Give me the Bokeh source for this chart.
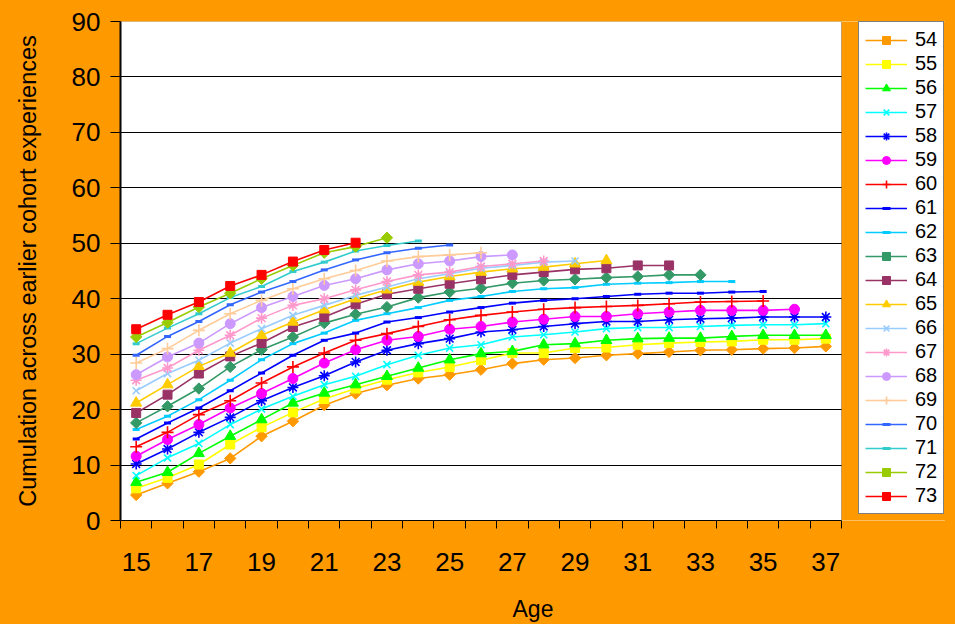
import math
from bokeh.plotting import figure
from bokeh.models import Legend, LegendItem, FixedTicker, Range1d, BoxAnnotation
from bokeh.embed import file_html
from bokeh.resources import INLINE

# ---- data -------------------------------------------------------------
first_age = 15
age_ticks = [15, 17, 19, 21, 23, 25, 27, 29, 31, 33, 35, 37]
y_ticks = [0, 10, 20, 30, 40, 50, 60, 70, 80, 90]
cohorts = ["54", "55", "56", "57", "58", "59", "60", "61", "62", "63",
           "64", "65", "66", "67", "68", "69", "70", "71", "72", "73"]

s54 = [4.6, 6.7, 8.8, 11.2, 15.2, 17.9, 20.8, 22.9, 24.4, 25.6, 26.3, 27.2, 28.3, 29.0, 29.3, 29.8, 30.1, 30.4, 30.7, 30.8, 31.0, 31.1, 31.4]
s55 = [5.8, 7.7, 10.1, 13.7, 16.8, 19.5, 21.9, 23.8, 25.4, 26.7, 27.7, 28.9, 30.2, 30.2, 31.1, 31.2, 31.7, 32.0, 32.2, 32.3, 32.6, 32.6, 32.8]
s56 = [6.9, 8.7, 12.1, 15.2, 18.2, 21.2, 23.0, 24.5, 26.0, 27.5, 29.0, 30.1, 30.5, 31.7, 31.9, 32.5, 32.8, 32.9, 32.9, 33.2, 33.4, 33.4, 33.4]
s57 = [8.1, 11.3, 13.9, 17.3, 20.1, 22.4, 24.5, 26.0, 28.1, 29.8, 31.1, 31.7, 33.1, 33.5, 34.0, 34.6, 34.8, 34.8, 35.0, 35.2, 35.3, 35.3, 35.5]
s58 = [10.2, 12.9, 15.9, 18.6, 21.6, 24.0, 26.1, 28.6, 30.7, 31.9, 32.8, 34.0, 34.4, 35.0, 35.5, 35.9, 35.9, 36.2, 36.4, 36.5, 36.7, 36.7, 36.7]
s59 = [11.6, 14.6, 17.3, 20.3, 22.9, 25.6, 28.4, 30.8, 32.5, 33.2, 34.5, 35.0, 35.8, 36.3, 36.8, 36.8, 37.3, 37.6, 37.9, 37.9, 37.9, 38.1]
s60 = [13.3, 15.9, 19.1, 21.6, 24.8, 27.7, 30.2, 32.5, 33.7, 35.0, 36.2, 37.0, 37.6, 38.1, 38.4, 38.6, 38.8, 39.1, 39.4, 39.5, 39.6]
s61 = [14.7, 17.6, 20.3, 23.4, 26.6, 29.8, 32.5, 33.8, 35.8, 36.6, 37.6, 38.4, 39.2, 39.7, 40.0, 40.4, 40.8, 41.0, 41.0, 41.2, 41.3]
s62 = [16.4, 18.8, 21.8, 25.3, 29.0, 31.9, 33.8, 36.1, 37.3, 38.4, 39.7, 40.4, 41.3, 41.8, 42.0, 42.6, 42.8, 42.9, 43.1, 43.1]
s63 = [17.6, 20.6, 23.8, 27.7, 30.8, 33.1, 35.6, 37.2, 38.5, 40.2, 41.2, 41.9, 42.8, 43.3, 43.5, 43.8, 44.0, 44.3, 44.3]
s64 = [19.4, 22.7, 26.5, 29.6, 32.0, 34.9, 36.7, 39.0, 40.8, 41.8, 42.7, 43.5, 44.3, 44.8, 45.3, 45.5, 46.0, 46.0]
s65 = [21.2, 24.5, 27.8, 30.2, 33.4, 35.8, 38.0, 40.0, 41.6, 43.0, 44.0, 44.8, 45.4, 45.7, 46.3, 46.9]
s66 = [23.4, 26.5, 28.9, 32.0, 34.6, 37.0, 38.8, 40.6, 42.1, 43.6, 44.5, 45.5, 46.0, 46.6, 46.8]
s67 = [25.3, 27.5, 30.7, 33.4, 36.5, 38.8, 40.0, 41.6, 43.1, 44.3, 44.8, 45.8, 46.3, 46.8]
s68 = [26.3, 29.5, 32.0, 35.5, 38.4, 40.4, 42.4, 43.6, 45.2, 46.3, 46.8, 47.6, 47.9]
s69 = [28.4, 31.0, 34.3, 37.3, 39.7, 41.8, 43.6, 45.1, 46.8, 47.6, 47.9, 48.3]
s70 = [29.8, 33.2, 35.9, 38.9, 41.2, 43.1, 45.2, 47.0, 48.3, 49.1, 49.7]
s71 = [31.9, 34.7, 37.3, 40.2, 42.2, 44.9, 46.6, 48.6, 49.6, 50.4]
s72 = [33.1, 35.7, 38.5, 41.0, 43.6, 46.0, 48.3, 49.4, 51.0]
s73 = [34.5, 37.1, 39.4, 42.3, 44.3, 46.7, 48.8, 50.1]

series = [s54, s55, s56, s57, s58, s59, s60, s61, s62, s63,
          s64, s65, s66, s67, s68, s69, s70, s71, s72, s73]

# ---- styles / layout --------------------------------------------------
colors = ["#FF9900", "#FFFF00", "#00FF00", "#00FFFF", "#0000FF", "#FF00FF", "#FF0000",
          "#0000FF", "#00CCFF", "#339966", "#993366", "#FFCC00", "#99CCFF", "#FF99CC",
          "#CC99FF", "#FFCC99", "#3366FF", "#33CCCC", "#99CC00", "#FF0000"]
markers = ["diamond", "square", "triangle", "x", "asterisk", "circle", "cross",
           "dash", "dash", "diamond", "square", "triangle", "x", "asterisk",
           "circle", "cross", "dash", "dash", "diamond", "square"]
msize = {"diamond": 8, "square": 9, "triangle": 11, "x": 10, "asterisk": 11,
         "circle": 10, "cross": 12, "dash": 7}
mline = {"diamond": 1, "square": 1, "triangle": 1, "x": 1.6, "asterisk": 1.6,
         "circle": 1, "cross": 1.6, "dash": 3}

FONT = "Liberation Sans"
BG = "#FF9900"

W, H = 945, 624
PLOT_LEFT, PLOT_RIGHT = 120, 841          # pixel edges of the white plot area
X0, X1 = 14.5, 37.5                        # age range of the plot area
px_per_age = (PLOT_RIGHT - PLOT_LEFT) / (X1 - X0)
x_end = X1 + (W - PLOT_RIGHT) / px_per_age  # frame runs on under the legend

p = figure(width=W, height=H, output_backend="svg", toolbar_location=None,
           x_range=Range1d(X0, x_end), y_range=Range1d(0, 90),
           min_border_left=PLOT_LEFT, min_border_right=0,
           min_border_top=21, min_border_bottom=H - 520)
p.background_fill_color = "white"
p.border_fill_color = BG
p.outline_line_color = None

# axes
p.xaxis.ticker = FixedTicker(ticks=age_ticks,
                             minor_ticks=[X0 + i for i in range(24)])
p.xaxis.bounds = (X0, X1)
p.xaxis.major_tick_out = 0
p.xaxis.major_tick_in = 0
p.xaxis.minor_tick_out = 8
p.xaxis.minor_tick_in = 0
p.xaxis.minor_tick_line_color = "black"
p.xaxis.minor_tick_line_width = 1
p.xaxis.axis_line_color = "black"
p.xaxis.axis_line_width = 1
p.xaxis.major_label_standoff = 24
p.xaxis.axis_label = "Age"
p.xaxis.axis_label_standoff = 22

p.yaxis.ticker = FixedTicker(ticks=y_ticks)
p.yaxis.major_tick_out = 10
p.yaxis.major_tick_in = 0
p.yaxis.minor_tick_line_color = None
p.yaxis.axis_line_color = "black"
p.yaxis.axis_line_width = 2
p.yaxis.major_tick_line_color = "black"
p.yaxis.major_tick_line_width = 1
p.yaxis.major_label_standoff = 10
p.yaxis.axis_label = "Cumulation across earlier cohort experiences"
p.yaxis.axis_label_standoff = 28

for ax in (p.xaxis, p.yaxis):
    ax.major_label_text_font = FONT
    ax.major_label_text_font_size = "26px"
    ax.major_label_text_color = "black"
    ax.axis_label_text_font = FONT
    ax.axis_label_text_font_style = "normal"
    ax.axis_label_text_color = "black"
p.xaxis.axis_label_text_font_size = "23px"
p.yaxis.axis_label_text_font_size = "23.5px"

p.xgrid.grid_line_color = None
p.ygrid.grid_line_color = "black"
p.ygrid.grid_line_width = 1

items = []
for name, vals, col, mk in zip(cohorts, series, colors, markers):
    xs = [first_age + i for i in range(len(vals))]
    lr = p.line(xs, vals, line_color=col, line_width=1.6)
    ang = math.pi / 4 if mk == "diamond" else 0
    m = "square" if mk == "diamond" else mk
    sr = p.scatter(xs, vals, marker=m, size=msize[mk], angle=ang,
                   fill_color=col, line_color=col, line_width=mline[mk])
    items.append(LegendItem(label=name, renderers=[lr, sr]))

# orange area right of the plot (under the legend) and the plot-area border
p.add_layout(BoxAnnotation(left=X1, fill_color=BG, fill_alpha=1, line_color=None))
p.add_layout(BoxAnnotation(left=X0, right=X1, bottom=0, top=90, fill_alpha=0,
                           line_color="#333333", line_width=1))

legend = Legend(items=items, location=(858 - PLOT_LEFT, 6))
legend.ncols = 1
legend.padding = 6
legend.spacing = 1
legend.glyph_width = 42
legend.glyph_height = 20
legend.label_height = 20
legend.label_width = 21
legend.label_standoff = 8
legend.label_text_font = FONT
legend.label_text_font_size = "20px"
legend.label_text_color = "black"
legend.border_line_color = "black"
legend.border_line_width = 1.5
legend.background_fill_color = "white"
legend.background_fill_alpha = 1
legend.margin = 0
p.add_layout(legend, "center")

html = file_html(p, INLINE, title="Cumulation by cohort")
html = html.replace("</head>", "<style>html,body{background:#FF9900;}</style></head>", 1)
open("out.html", "w").write(html)
